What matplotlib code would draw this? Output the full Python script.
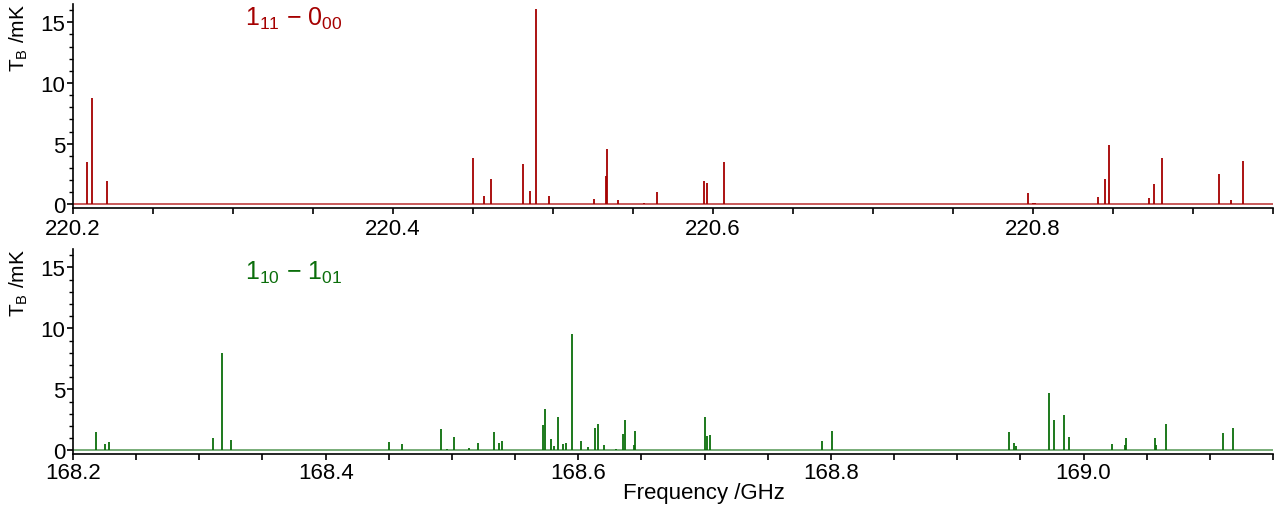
"""两段转动跃迁谱线(1_11-0_00 @220 GHz, 1_10-1_01 @168 GHz)上下对照图。

谱线按读出的中心频率 / 峰值画成竖线,基线单独画一条 0 线。
输出:out.png(1282x506)
"""
import matplotlib
matplotlib.use("Agg")
import matplotlib.pyplot as plt
from matplotlib.ticker import FixedLocator, FormatStrFormatter, MultipleLocator

plt.rcParams["font.family"] = ["Liberation Sans", "DejaVu Sans"]
plt.rcParams["mathtext.fontset"] = "custom"
plt.rcParams["mathtext.rm"] = "Liberation Sans"
plt.rcParams["mathtext.it"] = "Liberation Sans"

# 1_11 - 0_00 band: centre frequency (GHz) / peak T_B (mK)
FREQ_111 = [220.2086, 220.2117, 220.2211, 220.4498, 220.4569, 220.4615,
            220.4811, 220.4856, 220.4892, 220.4975, 220.5258, 220.5329,
            220.5339, 220.5408, 220.5569, 220.5648, 220.5944, 220.5965,
            220.6069, 220.7967, 220.8002, 220.8015, 220.8404, 220.8450,
            220.8475, 220.8725, 220.8756, 220.8804, 220.9165, 220.9238,
            220.9315]
TB_111 = [3.5, 8.8, 1.9, 3.8, 0.65, 2.1,
          3.3, 1.07, 16.1, 0.7, 0.47, 2.3,
          4.6, 0.4, 0.15, 1.0, 1.9, 1.8,
          3.5, 0.9, 0.15, 0.12, 0.6, 2.05,
          4.9, 0.5, 1.64, 3.85, 2.5, 0.35,
          3.6]

# 1_10 - 1_01 band
FREQ_110 = [168.2182, 168.2253, 168.2285, 168.3105, 168.3181, 168.3253,
            168.4498, 168.4606, 168.4917, 168.4962, 168.5020, 168.5136,
            168.5210, 168.5329, 168.5369, 168.5395, 168.5722, 168.5740,
            168.5785, 168.5804, 168.5843, 168.5883, 168.5901, 168.5954,
            168.6020, 168.6078, 168.6136, 168.6160, 168.6202, 168.6302,
            168.6357, 168.6370, 168.6439, 168.6453, 168.7007, 168.7020,
            168.7040, 168.7932, 168.8008, 168.9412, 168.9446, 168.9462,
            168.9528, 168.9573, 168.9725, 168.9768, 168.9844, 168.9884,
            169.0224, 169.0330, 169.0340, 169.0562, 169.0575, 169.0654,
            169.0884, 169.0971, 169.1108, 169.1182]
TB_110 = [1.5, 0.49, 0.66, 0.98, 8.0, 0.85,
          0.68, 0.55, 1.75, 0.15, 1.13, 0.2,
          0.62, 1.5, 0.64, 0.8, 2.05, 3.35,
          0.9, 0.35, 2.75, 0.52, 0.57, 9.5,
          0.74, 0.3, 1.83, 2.13, 0.43, 0.15,
          1.3, 2.5, 0.43, 1.6, 2.73, 1.17,
          1.25, 0.76, 1.58, 1.5, 0.57, 0.35,
          0.05, 0.05, 4.67, 2.5, 2.87, 1.09,
          0.49, 0.41, 0.98, 0.98, 0.41, 2.18,
          0.05, 0.05, 1.39, 1.86]

XLIM_111 = (220.2, 220.95)
XLIM_110 = (168.2, 169.15)
XTICKS_111 = [220.2, 220.4, 220.6, 220.8]
XTICKS_110 = [168.2, 168.4, 168.6, 168.8, 169.0]
YTICKS = [0, 5, 10, 15]
LABEL_111 = r"$\mathregular{1_{11}}$ − $\mathregular{0_{00}}$"
LABEL_110 = r"$\mathregular{1_{10}}$ − $\mathregular{1_{01}}$"


def _panel(ax, freq, tb, color, base_color, label, label_y, xlim, xticks, pad):
    ax.axhline(0, color=base_color, lw=1.4, zorder=1)
    ax.vlines(freq, 0, tb, color=color, lw=1.3, zorder=2)
    ax.set_xlim(*xlim)
    ax.set_ylim(-0.3, 16.5)
    ax.xaxis.set_major_locator(FixedLocator(xticks))
    ax.xaxis.set_major_formatter(FormatStrFormatter("%.1f"))
    ax.xaxis.set_minor_locator(MultipleLocator(0.05))
    ax.yaxis.set_major_locator(FixedLocator(YTICKS))
    ax.yaxis.set_minor_locator(MultipleLocator(1))
    for side in ("top", "right"):
        ax.spines[side].set_visible(False)
    for side in ("left", "bottom"):
        ax.spines[side].set_linewidth(1.2)
    ax.tick_params(axis="x", which="both", length=4.5, width=1.2, pad=pad,
                   labelsize=16)
    ax.tick_params(axis="y", which="major", length=4.5, width=1.2, pad=1,
                   labelsize=16)
    ax.tick_params(axis="y", which="minor", length=3, width=1.0)
    ax.set_ylabel(r"$\mathregular{T_B}$ /mK", fontsize=15)
    ax.yaxis.set_label_coords(-0.036, 0.84)
    ax.text(0.143, label_y, label, color=color, fontsize=18,
            transform=ax.transAxes, ha="left", va="center")


def main() -> None:
    fig = plt.figure(figsize=(12.82, 5.06), dpi=100)
    ax_top = fig.add_axes([73 / 1282, 1 - 209 / 506, 1200 / 1282, 204 / 506])
    ax_bot = fig.add_axes([73 / 1282, 1 - 455 / 506, 1200 / 1282, 205 / 506])

    _panel(ax_top, FREQ_111, TB_111, "#a50000", "#c85a5a", LABEL_111, 0.93,
           XLIM_111, XTICKS_111, pad=3)
    _panel(ax_bot, FREQ_110, TB_110, "#0b6e0b", "#78ad78", LABEL_110, 0.89,
           XLIM_110, XTICKS_110, pad=1)

    fig.text(704 / 1282, 1 - 494 / 506, "Frequency /GHz", fontsize=16,
             ha="center", va="center")
    fig.savefig("out.png", dpi=100)
    plt.close(fig)


if __name__ == "__main__":
    main()
